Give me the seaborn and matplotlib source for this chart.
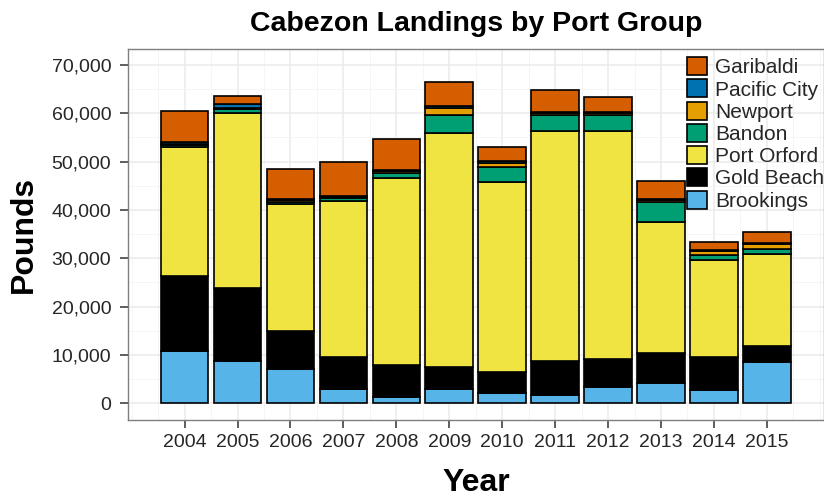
import matplotlib
matplotlib.use('Agg')
import matplotlib.pyplot as plt
from matplotlib.ticker import FuncFormatter, MultipleLocator
import pandas as pd
import seaborn as sns

years = [2004, 2005, 2006, 2007, 2008, 2009, 2010, 2011, 2012, 2013, 2014, 2015]
ports = ['Garibaldi', 'Pacific City', 'Newport', 'Bandon', 'Port Orford', 'Gold Beach', 'Brookings']

garibaldi = [6540, 1650, 6210, 7090, 6470, 4970, 2830, 4490, 3100, 3790, 1710, 2400]
pacific_city = [280, 930, 230, 230, 290, 530, 540, 340, 300, 250, 240, 260]
newport = [300, 100, 300, 300, 400, 1390, 830, 400, 380, 300, 800, 850]
bandon = [450, 900, 500, 450, 1000, 3780, 3040, 3250, 3250, 4200, 1030, 1160]
port_orford = [26620, 36130, 26140, 32260, 38640, 48400, 39230, 47570, 47280, 27100, 20000, 18970]
gold_beach = [15450, 15040, 7920, 6680, 6620, 4550, 4470, 7090, 5670, 6080, 7030, 3370]
brookings = [10920, 8850, 7140, 3000, 1340, 2940, 2110, 1700, 3470, 4300, 2650, 8520]

colors = ['#D55E00', '#0072B2', '#E69F00', '#009E73', '#F0E442', '#000000', '#56B4E9']

rows = []
for port, vals in zip(ports, [garibaldi, pacific_city, newport, bandon,
                              port_orford, gold_beach, brookings]):
    for yr, v in zip(years, vals):
        rows.append({'Year': yr, 'Port': port, 'Pounds': v})
df = pd.DataFrame(rows)

sns.set_style('whitegrid')
plt.rcParams['font.family'] = ['Liberation Sans', 'DejaVu Sans']

fig = plt.figure(figsize=(8.24, 5), dpi=100)
ax = fig.add_axes([128 / 824, 80 / 500, 1 - 128 / 824, 371 / 500])

# stacked bars: last hue level ends up at the bottom
sns.histplot(data=df, x='Year', weights='Pounds', hue='Port', hue_order=ports,
             multiple='stack', discrete=True, shrink=0.9, palette=colors,
             edgecolor='black', linewidth=1.2, alpha=1, ax=ax)

ax.set_xlim(2002.93, 2016.08)
ax.set_ylim(-3455, 73310)
ax.set_xticks(years)
ax.set_xticklabels([str(y) for y in years])
ax.yaxis.set_major_locator(MultipleLocator(10000))
ax.yaxis.set_minor_locator(MultipleLocator(5000))
ax.xaxis.set_minor_locator(MultipleLocator(0.5))
ax.yaxis.set_major_formatter(FuncFormatter(lambda v, p: f'{int(v):,}'))

ax.grid(which='major', color='#EBEBEB', linewidth=1.1)
ax.grid(which='minor', color='#F5F5F5', linewidth=0.7)
ax.set_axisbelow(True)
ax.tick_params(which='major', direction='out', length=6, width=1.1, color='#333333',
               labelsize=14, labelcolor='#262626', pad=4,
               bottom=True, left=True)
ax.tick_params(axis='y', pad=6)
ax.tick_params(which='minor', length=0)
for s in ax.spines.values():
    s.set_visible(True)
    s.set_color('#7F7F7F')
    s.set_linewidth(1)

ax.set_title('Cabezon Landings by Port Group', fontsize=20.5, fontweight='bold',
             pad=13, color='black')
ax.set_xlabel('Year', fontsize=23, fontweight='bold', labelpad=12, color='black')
ax.set_ylabel('Pounds', fontsize=23, fontweight='bold', labelpad=9, color='black')

sns.move_legend(ax, 'upper left', bbox_to_anchor=(0.803, 0.978), title=None,
                frameon=False, fontsize=15, borderpad=0, borderaxespad=0,
                handlelength=0.95, handleheight=0.95, labelspacing=0.1,
                handletextpad=0.4)
for t in ax.get_legend().get_texts():
    t.set_color('#262626')

fig.savefig('out.png', dpi=100)
